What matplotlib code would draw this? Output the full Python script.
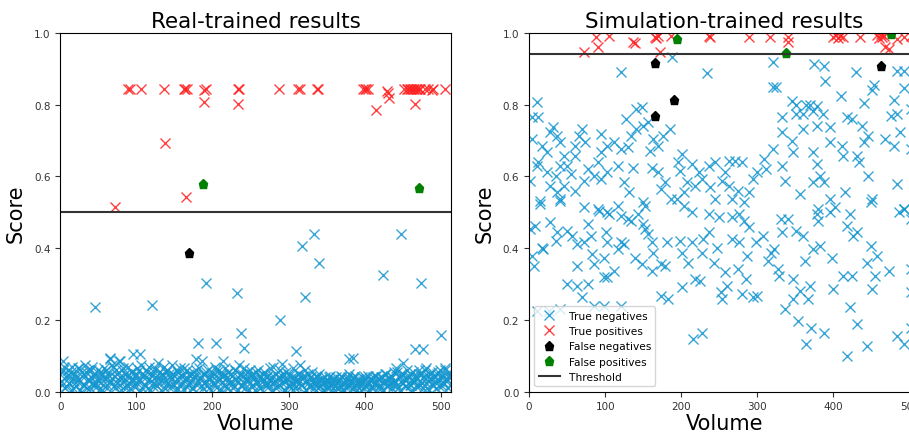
import numpy as np
import matplotlib
matplotlib.use('Agg')
import matplotlib.pyplot as plt

# ---- real-trained model ----
real_threshold = 0.5

real_tn_volume = [
    0, 2, 3, 5, 6, 8, 10, 11, 13, 15, 16, 18, 20, 21, 23, 25, 27, 28, 30, 32,
    33, 35, 37, 38, 40, 42, 44, 45, 47, 49, 51, 52, 54, 56, 58, 59, 61, 63, 65, 66,
    68, 70, 71, 73, 75, 77, 78, 80, 82, 84, 85, 87, 89, 91, 92, 94, 96, 98, 99, 101,
    103, 105, 106, 108, 110, 112, 113, 115, 117, 119, 120, 122, 124, 126, 128, 129, 131, 133, 135, 136,
    138, 140, 142, 143, 145, 147, 149, 150, 152, 154, 156, 157, 159, 161, 163, 164, 166, 168, 170, 172,
    173, 175, 177, 179, 180, 182, 184, 186, 187, 189, 191, 193, 194, 196, 198, 200, 201, 203, 205, 207,
    208, 210, 212, 214, 215, 217, 219, 221, 222, 224, 226, 228, 229, 231, 233, 235, 236, 238, 240, 242,
    243, 245, 247, 249, 250, 252, 254, 256, 257, 259, 261, 263, 264, 266, 268, 270, 271, 273, 275, 277,
    278, 280, 282, 284, 285, 287, 289, 291, 292, 294, 296, 298, 299, 301, 303, 305, 306, 308, 310, 312,
    313, 315, 317, 319, 320, 322, 324, 326, 327, 329, 331, 333, 334, 336, 338, 340, 341, 343, 345, 347,
    348, 350, 352, 354, 355, 357, 359, 361, 362, 364, 366, 368, 369, 371, 373, 375, 376, 378, 380, 382,
    383, 385, 387, 389, 390, 392, 394, 396, 397, 399, 401, 403, 404, 406, 408, 410, 411, 413, 415, 417,
    418, 420, 422, 424, 425, 427, 429, 431, 432, 434, 436, 438, 439, 441, 443, 445, 446, 448, 450, 452,
    453, 455, 457, 459, 460, 462, 464, 466, 467, 469, 471, 473, 474, 476, 478, 480, 481, 483, 485, 487,
    488, 490, 492, 494, 495, 497, 499, 501, 502, 504, 506, 508, 509, 511, 513,
    # second, overlapping layer of the low band
    1, 4, 7, 9, 12, 14, 17, 19, 22, 24, 26, 29, 31, 34, 36, 39, 41, 43, 46, 48,
    50, 53, 55, 57, 60, 62, 64, 67, 69, 72, 74, 76, 79, 81, 83, 86, 88, 90, 93, 95,
    97, 100, 102, 104, 107, 109, 111, 114, 116, 118, 121, 123, 125, 127, 130, 132, 134, 137, 139, 141,
    144, 146, 148, 151, 153, 155, 158, 160, 162, 165, 167, 169, 171, 174, 176, 178, 181, 183, 185, 188,
    190, 192, 195, 197, 199, 202, 204, 206, 209, 211, 213, 216, 218, 220, 223, 225, 227, 230, 232, 234,
    237, 239, 241, 244, 246, 248, 251, 253, 255, 258, 260, 262, 265, 267, 269, 272, 274, 276, 279, 281,
    283, 286, 288, 290, 293, 295, 297, 300, 302, 304, 307, 309, 311, 314, 316, 318, 321, 323, 325, 328,
    330, 332, 335, 337, 339, 342, 344, 346, 349, 351, 353, 356, 358, 360, 363, 365, 367, 370, 372, 374,
    377, 379, 381, 384, 386, 388, 391, 393, 395, 398, 400, 402, 405, 407, 409, 412, 414, 416, 419, 421,
    423, 426, 428, 430, 433, 435, 437, 440, 442, 444, 447, 449, 451, 454, 456, 458, 461, 463, 465, 468,
    470, 472, 475, 477, 479, 482, 484, 486, 489, 491, 493, 496, 498, 500, 503, 505, 507, 510, 512,
    # scattered higher negatives
    46, 120, 192, 181, 205, 214, 232, 237, 241, 289, 310, 318, 321, 334, 340,
    292, 424, 448, 474, 500, 466, 477, 379, 384, 96, 105, 65, 78, 450,
]
real_tn_score = [
    0.05, 0.02, 0.085, 0.07, 0.01, 0.04, 0.06, 0.025, 0.045, 0.005, 0.07, 0.03, 0.05, 0.015, 0.065, 0.035, 0.0, 0.055, 0.02, 0.045,
    0.075, 0.01, 0.06, 0.03, 0.04, 0.07, 0.015, 0.05, 0.025, 0.06, 0.005, 0.04, 0.055, 0.02, 0.065, 0.035, 0.01, 0.05, 0.09, 0.03,
    0.075, 0.045, 0.015, 0.06, 0.025, 0.085, 0.04, 0.005, 0.065, 0.03, 0.05, 0.02, 0.07, 0.04, 0.01, 0.055, 0.03, 0.045, 0.015, 0.065,
    0.035, 0.0, 0.075, 0.05, 0.02, 0.06, 0.04, 0.01, 0.07, 0.03, 0.05, 0.015, 0.065, 0.04, 0.08, 0.025, 0.055, 0.005, 0.045, 0.07,
    0.03, 0.06, 0.015, 0.05, 0.035, 0.075, 0.02, 0.045, 0.06, 0.01, 0.04, 0.065, 0.025, 0.05, 0.005, 0.035, 0.06, 0.02, 0.045, 0.03,
    0.01, 0.055, 0.04, 0.09, 0.02, 0.065, 0.035, 0.085, 0.01, 0.05, 0.03, 0.015, 0.06, 0.04, 0.005, 0.055, 0.025, 0.07, 0.045, 0.015,
    0.06, 0.035, 0.0, 0.05, 0.02, 0.065, 0.04, 0.01, 0.055, 0.03, 0.045, 0.015, 0.06, 0.035, 0.005, 0.075, 0.05, 0.02, 0.04, 0.065,
    0.01, 0.045, 0.03, 0.06, 0.015, 0.05, 0.035, 0.005, 0.055, 0.025, 0.045, 0.01, 0.04, 0.03, 0.055, 0.015, 0.045, 0.025, 0.065, 0.04,
    0.005, 0.07, 0.03, 0.05, 0.015, 0.04, 0.06, 0.025, 0.045, 0.005, 0.055, 0.035, 0.02, 0.05, 0.01, 0.04, 0.065, 0.03, 0.015, 0.05,
    0.035, 0.075, 0.02, 0.045, 0.0, 0.06, 0.03, 0.05, 0.015, 0.04, 0.055, 0.025, 0.01, 0.045, 0.03, 0.05, 0.015, 0.035, 0.005, 0.025,
    0.04, 0.01, 0.03, 0.045, 0.02, 0.005, 0.035, 0.015, 0.04, 0.025, 0.01, 0.035, 0.045, 0.02, 0.005, 0.03, 0.015, 0.04, 0.05, 0.025,
    0.01, 0.035, 0.045, 0.02, 0.005, 0.03, 0.015, 0.04, 0.025, 0.01, 0.035, 0.02, 0.045, 0.005, 0.03, 0.015, 0.04, 0.025, 0.045, 0.01,
    0.035, 0.02, 0.04, 0.005, 0.03, 0.05, 0.015, 0.035, 0.025, 0.045, 0.01, 0.055, 0.03, 0.065, 0.02, 0.04, 0.005, 0.05, 0.025, 0.035,
    0.015, 0.06, 0.04, 0.02, 0.05, 0.005, 0.03, 0.045, 0.015, 0.035, 0.06, 0.02, 0.05, 0.01, 0.04, 0.065, 0.025, 0.045, 0.005, 0.035,
    0.055, 0.02, 0.04, 0.01, 0.05, 0.03, 0.06, 0.015, 0.045, 0.025, 0.065, 0.035, 0.01, 0.055, 0.04,
    0.03, 0.06, 0.015, 0.045, 0.025, 0.055, 0.01, 0.04, 0.03, 0.065, 0.005, 0.045, 0.02, 0.055, 0.035, 0.01, 0.06, 0.025, 0.045, 0.015,
    0.03, 0.05, 0.005, 0.04, 0.06, 0.02, 0.045, 0.03, 0.07, 0.01, 0.05, 0.035, 0.02, 0.06, 0.04, 0.01, 0.045, 0.025, 0.055, 0.035,
    0.015, 0.05, 0.03, 0.06, 0.01, 0.04, 0.02, 0.055, 0.035, 0.005, 0.045, 0.025, 0.06, 0.015, 0.04, 0.03, 0.05, 0.01, 0.055, 0.025,
    0.04, 0.015, 0.05, 0.03, 0.005, 0.055, 0.02, 0.04, 0.065, 0.015, 0.035, 0.05, 0.025, 0.01, 0.045, 0.06, 0.03, 0.04, 0.015, 0.05,
    0.025, 0.055, 0.01, 0.035, 0.045, 0.02, 0.06, 0.03, 0.005, 0.05, 0.04, 0.015, 0.035, 0.055, 0.025, 0.045, 0.01, 0.06, 0.03, 0.04,
    0.015, 0.05, 0.025, 0.035, 0.055, 0.005, 0.045, 0.02, 0.04, 0.03, 0.06, 0.01, 0.035, 0.05, 0.02, 0.04, 0.015, 0.03, 0.045, 0.025,
    0.01, 0.04, 0.02, 0.035, 0.05, 0.005, 0.03, 0.045, 0.015, 0.025, 0.04, 0.01, 0.03, 0.05, 0.02, 0.035, 0.045, 0.005, 0.025, 0.04,
    0.015, 0.03, 0.02, 0.04, 0.01, 0.025, 0.035, 0.005, 0.02, 0.03, 0.04, 0.015, 0.025, 0.035, 0.01, 0.03, 0.02, 0.04, 0.005, 0.025,
    0.035, 0.015, 0.03, 0.04, 0.01, 0.02, 0.035, 0.025, 0.005, 0.03, 0.04, 0.015, 0.025, 0.035, 0.01, 0.03, 0.045, 0.02, 0.035, 0.01,
    0.04, 0.025, 0.05, 0.015, 0.035, 0.045, 0.02, 0.03, 0.055, 0.01, 0.04, 0.025, 0.05, 0.015, 0.035, 0.045, 0.02, 0.055, 0.03, 0.04,
    0.015, 0.05, 0.025, 0.04, 0.06, 0.01, 0.035, 0.05, 0.02, 0.045, 0.03, 0.055, 0.015, 0.04, 0.025, 0.06, 0.035, 0.045, 0.02,
    0.235, 0.242, 0.303, 0.135, 0.135, 0.086, 0.275, 0.163, 0.122, 0.2, 0.113, 0.407, 0.263, 0.441, 0.36,
    0.077, 0.325, 0.441, 0.303, 0.159, 0.119, 0.119, 0.09, 0.095, 0.105, 0.105, 0.095, 0.087, 0.08,
]

real_tp_volume = [
    89, 91, 106, 136, 162, 164, 166, 189, 191, 234, 235, 288, 313, 315, 337, 339,
    398, 400, 402, 404, 452, 455, 457, 459, 461, 463, 465, 467, 469, 471, 473, 479,
    483, 488, 490, 505,
    72, 137, 165, 189, 233, 415, 429, 432, 466, 430,
]
real_tp_score = [
    0.843, 0.845, 0.843, 0.843, 0.845, 0.843, 0.845, 0.84, 0.845, 0.843, 0.845, 0.843, 0.845, 0.843, 0.843, 0.845,
    0.843, 0.845, 0.843, 0.845, 0.843, 0.845, 0.843, 0.845, 0.843, 0.845, 0.843, 0.845, 0.843, 0.845, 0.843, 0.845,
    0.843, 0.84, 0.845, 0.843,
    0.514, 0.693, 0.542, 0.808, 0.801, 0.786, 0.839, 0.818, 0.802, 0.832,
]

real_fn_volume = [169]
real_fn_score = [0.386]

real_fp_volume = [187, 472]
real_fp_score = [0.579, 0.567]

# ---- simulation-trained model ----
sim_threshold = 0.9415

sim_tn_volume = [
    10, 4, 12, 121, 188, 234, 320, 320, 324, 345, 375, 387, 389, 429, 453, 451,
    484, 493, 493, 480, 410, 440, 364, 369, 378, 351, 360, 351, 373, 386, 395, 360,
    378, 418, 424, 437, 446, 440, 468, 475, 484, 502, 488, 480, 502, 484, 493,
    333, 333, 320, 345, 347, 333, 336, 356, 373, 378, 382, 373, 387, 395, 395,
    411, 413, 415, 431, 433, 446, 451, 422, 395, 380,
    309, 311, 300, 294, 289, 283, 280, 271, 263, 258, 254, 245, 236, 238, 245, 263,
    267, 274, 227, 218, 223, 214, 201, 196, 198, 207, 203, 194, 178, 174, 187, 170,
    161, 170, 159, 163, 176, 185, 156, 150, 148, 141, 128, 141, 134, 130, 121, 112,
    103, 94, 94, 90, 86, 94, 103, 117, 125, 136, 132, 150, 121, 103, 90, 72,
    41, 37, 28, 15, 1, 10, 4, 17, 24, 28, 32, 37, 41, 46, 50, 55,
    41, 35, 24, 12, 61, 66, 70, 61, 74, 77, 72, 61, 46,
    1, 8, 4, 6, 17, 19, 28, 35, 37, 50, 63, 77, 63, 57, 50, 63,
    72, 81, 77, 83, 86, 92, 101, 103, 99, 99, 103, 112, 117, 121, 125, 130,
    134, 139, 148, 150, 152, 156, 161, 163, 161, 174, 178, 174, 183, 181, 198, 201,
    201, 209, 214, 218, 225, 227, 229, 236, 243, 247, 252, 254, 258, 260, 267, 274,
    276, 280, 285, 287, 289, 294, 300, 298, 307, 314, 318, 322, 327, 329, 336, 333,
    347, 347, 353, 356, 362, 364, 367, 369, 371, 373, 382, 387, 378, 380, 398, 400,
    402, 413, 418, 422, 424, 431, 431, 444, 444, 449, 451, 457, 455, 473, 484, 493,
    486, 493, 502, 502, 502, 502, 418, 426, 449, 360, 351, 331, 340, 249, 236, 267,
    276, 283, 203, 214, 152, 143, 117, 105, 15, 41,
    10, 26, 41, 86, 99, 121, 70, 216, 227,
]
sim_tn_score = [
    0.807, 0.765, 0.765, 0.892, 0.932, 0.888, 0.918, 0.85, 0.85, 0.811, 0.913, 0.909, 0.867, 0.892, 0.855, 0.842,
    0.895, 0.895, 0.846, 0.813, 0.825, 0.805, 0.8, 0.8, 0.797, 0.799, 0.774, 0.774, 0.783, 0.774, 0.737, 0.732,
    0.741, 0.765, 0.76, 0.742, 0.714, 0.695, 0.704, 0.77, 0.774, 0.788, 0.723, 0.686, 0.677, 0.579, 0.509,
    0.765, 0.723, 0.677, 0.7, 0.667, 0.63, 0.588, 0.551, 0.667, 0.635, 0.602, 0.585, 0.585, 0.695, 0.537,
    0.686, 0.658, 0.556, 0.658, 0.64, 0.602, 0.537, 0.495, 0.5, 0.509,
    0.648, 0.62, 0.612, 0.593, 0.556, 0.528, 0.64, 0.644, 0.644, 0.612, 0.588, 0.64, 0.63, 0.57, 0.537, 0.574,
    0.537, 0.56, 0.593, 0.574, 0.612, 0.635, 0.663, 0.64, 0.616, 0.584, 0.556, 0.537, 0.584, 0.565, 0.537, 0.612,
    0.625, 0.686, 0.672, 0.704, 0.714, 0.732, 0.751, 0.741, 0.793, 0.788, 0.76, 0.732, 0.714, 0.681, 0.677, 0.695,
    0.686, 0.718, 0.667, 0.64, 0.602, 0.593, 0.612, 0.63, 0.584, 0.625, 0.556, 0.528, 0.491, 0.5, 0.509, 0.514,
    0.537, 0.556, 0.574, 0.532, 0.588, 0.63, 0.704, 0.686, 0.667, 0.723, 0.737, 0.714, 0.695, 0.658, 0.63, 0.607,
    0.63, 0.602, 0.612, 0.64, 0.686, 0.714, 0.732, 0.658, 0.695, 0.62, 0.588, 0.56, 0.574,
    0.453, 0.463, 0.379, 0.351, 0.402, 0.398, 0.472, 0.421, 0.444, 0.3, 0.295, 0.3, 0.351, 0.435, 0.449, 0.412,
    0.416, 0.435, 0.467, 0.384, 0.356, 0.504, 0.444, 0.416, 0.374, 0.319, 0.319, 0.337, 0.398, 0.416, 0.412, 0.481,
    0.477, 0.374, 0.356, 0.467, 0.453, 0.44, 0.416, 0.388, 0.337, 0.356, 0.351, 0.267, 0.258, 0.416, 0.421, 0.388,
    0.291, 0.36, 0.416, 0.314, 0.309, 0.388, 0.425, 0.444, 0.36, 0.402, 0.277, 0.258, 0.333, 0.295, 0.425, 0.342,
    0.416, 0.272, 0.314, 0.379, 0.458, 0.263, 0.267, 0.416, 0.435, 0.365, 0.388, 0.398, 0.342, 0.323, 0.23, 0.444,
    0.258, 0.314, 0.198, 0.281, 0.365, 0.133, 0.258, 0.295, 0.179, 0.398, 0.407, 0.165, 0.495, 0.477, 0.374, 0.286,
    0.514, 0.323, 0.1, 0.235, 0.323, 0.188, 0.444, 0.128, 0.36, 0.407, 0.286, 0.379, 0.323, 0.337, 0.156, 0.133,
    0.5, 0.509, 0.481, 0.277, 0.342, 0.179, 0.463, 0.435, 0.528, 0.435, 0.449, 0.481, 0.481, 0.486, 0.495, 0.486,
    0.495, 0.477, 0.518, 0.5, 0.518, 0.495, 0.518, 0.495, 0.523, 0.532,
    0.226, 0.226, 0.23, 0.24, 0.24, 0.24, 0.263, 0.147, 0.165,
]

sim_tp_volume = [
    72, 88, 91, 105, 136, 139, 165, 167, 170, 172, 187, 236, 238, 289, 316, 340,
    340, 400, 403, 406, 409, 413, 435, 457, 460, 462, 464, 466, 468, 473, 484, 493, 502,
]
sim_tp_score = [
    0.946, 0.99, 0.96, 0.992, 0.975, 0.972, 0.99, 0.985, 0.993, 0.946, 0.993, 0.993, 0.988, 0.99, 0.99, 0.99,
    0.976, 0.99, 0.995, 0.985, 0.993, 0.99, 0.99, 0.995, 0.985, 0.998, 0.99, 0.993, 0.96, 0.955, 0.983, 0.99, 0.993,
]

sim_fn_volume = [166, 191, 166, 463]
sim_fn_score = [0.916, 0.814, 0.77, 0.907]

sim_fp_volume = [194, 337, 475]
sim_fp_score = [0.983, 0.944, 0.997]

tn_color = '#1496cf'
tp_color = '#ff2020'


def draw_panel(ax, tn, tp, fn, fp, threshold, title):
    ax.plot(tn[0], tn[1], 'x', color=tn_color, markersize=7.5, mew=1.0,
            alpha=0.85, label='True negatives')
    ax.plot(tp[0], tp[1], 'x', color=tp_color, markersize=7.5, mew=1.0,
            alpha=0.85, label='True positives')
    ax.plot(fn[0], fn[1], 'p', color='black', markersize=6.5,
            label='False negatives')
    ax.plot(fp[0], fp[1], 'p', color='green', markersize=6.5,
            label='False positives')
    ax.axhline(threshold, color='#333333', lw=1.5, label='Threshold')

    ax.set_xlim(0, 513)
    ax.set_ylim(0, 1.0)
    ax.set_title(title, fontsize=15.5, pad=4)
    ax.set_xlabel('Volume', fontsize=15, labelpad=1)
    ax.set_ylabel('Score', fontsize=15, labelpad=6)
    ax.tick_params(labelsize=7.5, colors='#333333', labelcolor='#333333')


def main():
    fig = plt.figure(figsize=(9.09, 4.35), dpi=100)
    ax_real = fig.add_axes([0.0663, 0.0972, 0.4295, 0.8246])
    ax_sim = fig.add_axes([0.582, 0.0972, 0.4295, 0.8246])

    draw_panel(ax_real,
               (real_tn_volume, real_tn_score),
               (real_tp_volume, real_tp_score),
               (real_fn_volume, real_fn_score),
               (real_fp_volume, real_fp_score),
               real_threshold, 'Real-trained results')
    draw_panel(ax_sim,
               (sim_tn_volume, sim_tn_score),
               (sim_tp_volume, sim_tp_score),
               (sim_fn_volume, sim_fn_score),
               (sim_fp_volume, sim_fp_score),
               sim_threshold, 'Simulation-trained results')

    ax_sim.legend(loc='lower left', fontsize=7.7, numpoints=1,
                  framealpha=0.8, borderpad=0.4, handletextpad=0.8)

    fig.savefig('out.png', dpi=100)


if __name__ == '__main__':
    main()
